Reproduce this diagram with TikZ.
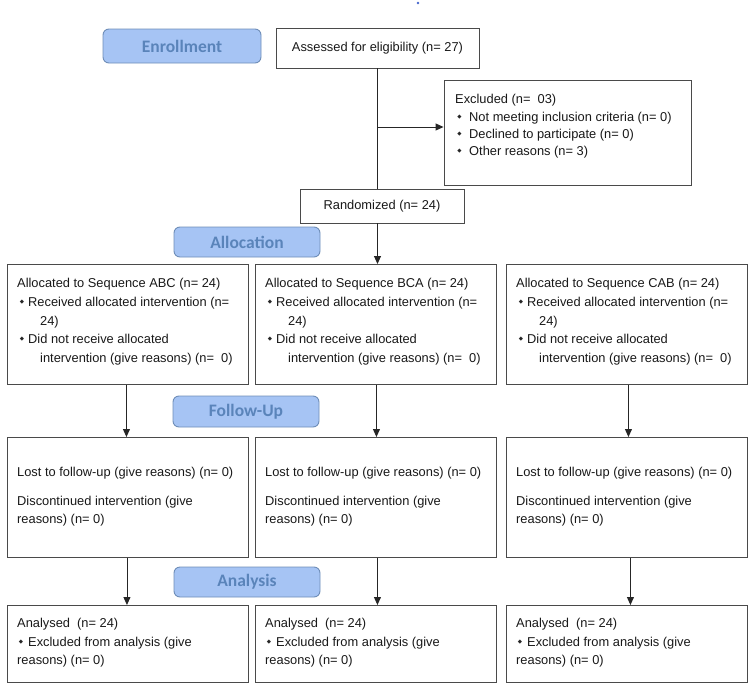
\documentclass[tikz,border=0pt]{standalone}
\usepackage{fontspec}
\setmainfont{Liberation Sans}
\newfontfamily\labfont{Carlito}
\newfontfamily\dejavu{DejaVu Sans}
\usetikzlibrary{arrows.meta}
\definecolor{labfill}{HTML}{A6C4F4}
\definecolor{labdraw}{HTML}{6E8DB8}
\definecolor{labtext}{HTML}{5A84BA}
\definecolor{boxdraw}{HTML}{4A4A4A}
\definecolor{dotblue}{HTML}{4466CC}
\tikzset{
  box/.style={draw=boxdraw, line width=0.9pt, fill=white, inner sep=0pt},
  lab/.style={draw=labdraw, line width=0.9pt, fill=labfill, rounded corners=6pt, inner sep=0pt,
    font=\labfont\fontsize{17.5}{17.5}\selectfont\bfseries, text=labtext},
  txt/.style={inner sep=0pt, font=\fontsize{12.85}{15}\selectfont, text=black!90},
  bulnode/.style={inner sep=0pt, font=\dejavu\fontsize{5.5}{5.5}\selectfont, text=black!85},
  arr/.style={draw=black!85, line width=0.9pt, -{Triangle[length=8pt,width=7pt]}},
  conn/.style={draw=black!85, line width=0.9pt}
}
\newcommand\tline[4]{\node[txt, anchor=base west] (#1) at (#2,#3+4.5) {#4};}
\newcommand\bulpt[3]{\node[bulnode] (#1) at (#2,#3+0.5) {◆};}
\begin{document}
\begin{tikzpicture}[x=1pt,y=-1pt]
\useasboundingbox (0,0) rectangle (750,691);
\fill[dotblue] (418,3) circle (1.4) coordinate (dot);

% Enrollment
\node[lab, minimum width=158, minimum height=34] (enr) at (182,46) {Enrollment};
\node[box, minimum width=203, minimum height=40] (ass) at (377.5,48) {};
\node[txt] (asst) at (ass.center) {Assessed for eligibility (n= 27)};

\node[box, minimum width=247, minimum height=105] (exc) at (567.5,132.5) {};
\tline{exc1}{455}{99}{Excluded (n=\ \ 03)}
\bulpt{excb2}{459.5}{116.5}\tline{exc2}{469}{116.5}{Not meeting inclusion criteria (n= 0)}
\bulpt{excb3}{459.5}{133.5}\tline{exc3}{469}{133.5}{Declined to participate (n= 0)}
\bulpt{excb4}{459.5}{150.5}\tline{exc4}{469}{150.5}{Other reasons (n= 3)}

\node[box, minimum width=164, minimum height=34] (rand) at (382,206) {};
\node[txt] (randt) at (rand.center) {Randomized (n= 24)};

\coordinate (jn) at (377.5,127);
\draw[conn] (ass.south) -- (ass.south |- rand.north);
\draw[arr] (jn) -- (jn -| exc.west);

% Allocation
\node[lab, minimum width=146, minimum height=30] (allo) at (247,242) {Allocation};
\foreach \n/\L/\s in {a1/7/ABC, a2/255/BCA, a3/506/CAB}{
  \node[box, minimum width=241, minimum height=120, anchor=north west] (\n) at (\L,264) {};
  \tline{\n h}{\L+10}{283}{Allocated to Sequence \s\ (n= 24)}
  \bulpt{\n b1}{\L+15}{302}\tline{\n t1}{\L+21}{302}{Received allocated intervention (n=}
  \tline{\n t2}{\L+33}{320.5}{24)}
  \bulpt{\n b2}{\L+15}{339}\tline{\n t3}{\L+21}{339}{Did not receive allocated}
  \tline{\n t4}{\L+33}{358}{intervention (give reasons) (n=\ \ 0)}
}
\coordinate (r1) at (rand.south -| ass.south);
\coordinate (r2) at (a2.north -| ass.south);
\draw[arr] (r1) -- (r2);

% Follow-Up
\node[lab, minimum width=146, minimum height=31] (fol) at (246,411.5) {Follow-Up};
\foreach \n/\L in {f1/7, f2/255, f3/506}{
  \node[box, minimum width=241, minimum height=120, anchor=north west] (\n) at (\L,437) {};
  \tline{\n t1}{\L+10}{472}{Lost to follow-up (give reasons) (n= 0)}
  \tline{\n t2}{\L+10}{501}{Discontinued intervention (give}
  \tline{\n t3}{\L+10}{519}{reasons) (n= 0)}
}

% Analysis
\node[lab, minimum width=146, minimum height=30] (ana) at (247,582) {Analysis};
\foreach \n/\L in {n1/7, n2/255, n3/506}{
  \node[box, minimum width=241, minimum height=77, anchor=north west] (\n) at (\L,605) {};
  \tline{\n t1}{\L+10}{623}{Analysed\ \ (n= 24)}
  \bulpt{\n b1}{\L+14}{642}\tline{\n t2}{\L+21}{642}{Excluded from analysis (give}
  \tline{\n t3}{\L+10}{660}{reasons) (n= 0)}
}

% column arrows
\draw[arr] ([xshift=-1.5pt]a1.south) -- ([xshift=-1.5pt]a1.south |- f1.north);
\draw[arr] ([xshift=0.5pt]a2.south) -- ([xshift=0.5pt]a2.south |- f2.north);
\draw[arr] ([xshift=1.5pt]a3.south) -- ([xshift=1.5pt]a3.south |- f3.north);
\draw[arr] ([xshift=-1pt]f1.south) -- ([xshift=-1pt]f1.south |- n1.north);
\draw[arr] ([xshift=1.5pt]f2.south) -- ([xshift=1.5pt]f2.south |- n2.north);
\draw[arr] ([xshift=3.5pt]f3.south) -- ([xshift=3.5pt]f3.south |- n3.north);
\end{tikzpicture}
\end{document}
